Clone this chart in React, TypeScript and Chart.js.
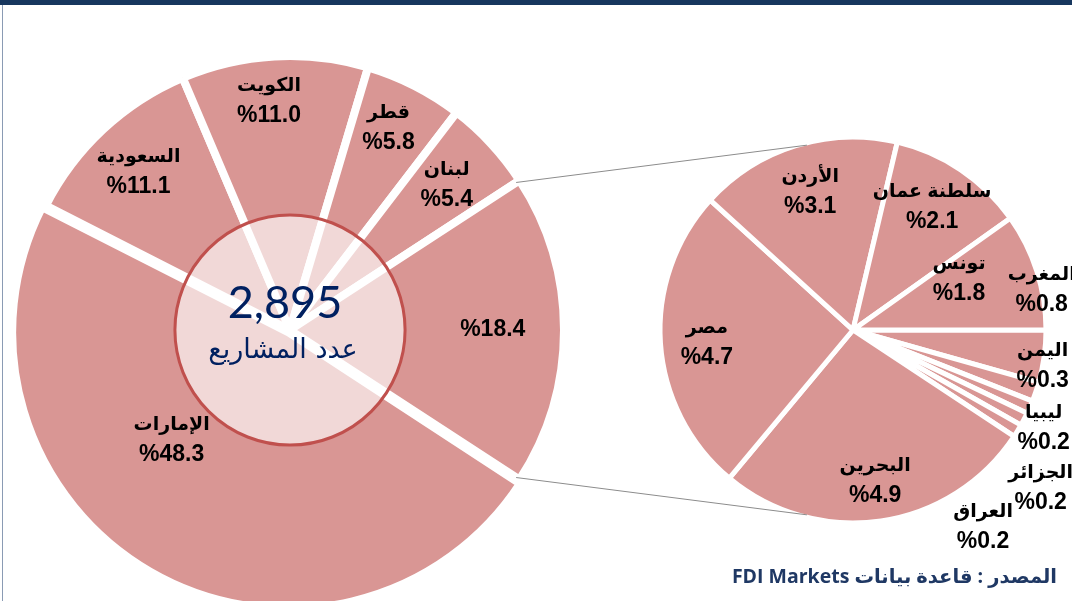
import React, { useEffect, useRef } from 'react';
import { Chart, registerables } from 'chart.js';

Chart.register(...registerables);

// ---------- data ----------
const mainCategories = ['الإمارات', 'السعودية', 'الكويت', 'قطر', 'لبنان', 'دول أخرى'];
const mainValues = [48.3, 11.1, 11.0, 5.8, 5.4, 18.4];
const subCategories = ['المغرب', 'اليمن', 'ليبيا', 'الجزائر', 'العراق', 'البحرين', 'مصر', 'الأردن', 'سلطنة عمان', 'تونس'];
const subValues = [0.8, 0.3, 0.2, 0.2, 0.2, 4.9, 4.7, 3.1, 2.1, 1.8];
const totalProjects = 2895;
const centerCaption = 'عدد المشاريع';
const sourceText = 'المصدر : قاعدة بيانات FDI Markets';

// ---------- layout / style (not data) ----------
const SLICE = '#d99694';
const NAVY = '#002060';
// [angle shift in degrees, radial fraction of outer radius]
const mainLabelPlacement = [[17, 0.59], [-0.7, 0.8], [-2, 0.84], [-1, 0.82], [0, 0.78], [0, 0.74]];
const mainHideName = [false, false, false, false, false, true];
const subLabelPlacement = [[-20, 1.0], [-8, 1.0], [3.5, 1.11], [12.5, 1.27], [25, 1.22], [0, 0.79], [-1, 0.76], [0, 0.75], [-1.3, 0.76], [-8, 0.61]];
const mainBorder = 8;
const subBorder = 5;
const connectorSpread = 76; // degrees from left horizontal on the second pie

const NAME_FONT = 'bold 19px "Liberation Sans", "DejaVu Sans", sans-serif';
const PCT_FONT = 'bold 23px "Liberation Sans", Arial, sans-serif';

function drawLabels(chart: any, names: string[], values: number[], placement: number[][], hide: boolean[]) {
  const ctx = chart.ctx as CanvasRenderingContext2D;
  const arcs = chart.getDatasetMeta(0).data;
  ctx.save();
  ctx.fillStyle = '#000';
  ctx.textAlign = 'center';
  ctx.textBaseline = 'middle';
  arcs.forEach((arc: any, i: number) => {
    const [da, f] = placement[i];
    const a = (arc.startAngle + arc.endAngle) / 2 + (da * Math.PI) / 180;
    const cx = arc.x + Math.cos(a) * arc.outerRadius * f;
    const cy = arc.y + Math.sin(a) * arc.outerRadius * f;
    const pct = '%' + values[i].toFixed(1);
    ctx.direction = 'ltr';
    if (hide[i]) {
      ctx.font = PCT_FONT;
      ctx.fillText(pct, cx, cy);
    } else {
      ctx.font = NAME_FONT;
      ctx.direction = 'rtl';
      ctx.fillText(names[i], cx, cy - 15);
      ctx.direction = 'ltr';
      ctx.font = PCT_FONT;
      ctx.fillText(pct, cx, cy + 15);
    }
  });
  ctx.restore();
}

export default function App() {
  const mainRef = useRef<HTMLCanvasElement>(null);
  const subRef = useRef<HTMLCanvasElement>(null);

  useEffect(() => {
    document.body.style.margin = '0';
    const mainSum = mainValues.reduce((a, b) => a + b, 0);
    const othersIdx = mainValues.length - 1;
    const mainRotation = 90 + (mainValues[othersIdx] / mainSum) * 180;

    const mainPlugin = {
      id: 'mainDecor',
      afterDatasetsDraw(chart: any) {
        const ctx = chart.ctx as CanvasRenderingContext2D;
        const arc = chart.getDatasetMeta(0).data[0];
        const cx = arc.x, cy = arc.y;
        const r = arc.outerRadius * 0.42;
        ctx.save();
        ctx.beginPath();
        ctx.arc(cx, cy, r, 0, Math.PI * 2);
        ctx.fillStyle = 'rgba(255,255,255,0.63)';
        ctx.fill();
        ctx.lineWidth = 3;
        ctx.strokeStyle = '#c0504d';
        ctx.stroke();
        ctx.fillStyle = NAVY;
        ctx.textAlign = 'center';
        ctx.textBaseline = 'middle';
        ctx.font = '45px Lato, "Open Sans", sans-serif';
        ctx.fillText(totalProjects.toLocaleString('en-US'), cx - 5, cy - 27);
        ctx.direction = 'rtl';
        ctx.font = '27px "DejaVu Sans", sans-serif';
        ctx.fillText(centerCaption, cx - 7, cy + 21);
        ctx.restore();
        drawLabels(chart, mainCategories, mainValues, mainLabelPlacement, mainHideName);
      },
    };

    const main = new Chart(mainRef.current!, {
      type: 'pie',
      data: {
        labels: mainCategories,
        datasets: [
          {
            data: mainValues,
            backgroundColor: SLICE,
            borderColor: '#ffffff',
            borderWidth: mainBorder,
            offset: mainValues.map((_, i) => (i === 0 ? 11 : 0)),
            hoverOffset: 0,
            clip: false as any,
          } as any,
        ],
      },
      options: {
        responsive: false,
        animation: false,
        events: [],
        rotation: mainRotation,
        radius: 274,
        layout: { padding: { left: 0, right: 492, top: 59, bottom: 0 } },
        plugins: { legend: { display: false }, tooltip: { enabled: false } },
      } as any,
      plugins: [mainPlugin],
    });

    const subPlugin = {
      id: 'subDecor',
      afterDatasetsDraw(chart: any) {
        drawLabels(chart, subCategories, subValues, subLabelPlacement, subCategories.map(() => false));
        const ctx = chart.ctx as CanvasRenderingContext2D;
        // connector lines between the "others" slice and the second pie
        const o = main.getDatasetMeta(0).data[othersIdx] as any;
        const R1 = o.outerRadius - mainBorder / 2;
        const s = chart.getDatasetMeta(0).data[0] as any;
        const R2 = s.outerRadius - subBorder / 2;
        const spread = (connectorSpread * Math.PI) / 180;
        const pairs = [
          [o.startAngle, Math.PI + spread],
          [o.endAngle, Math.PI - spread],
        ];
        ctx.save();
        ctx.strokeStyle = '#8c8c8c';
        ctx.lineWidth = 1;
        pairs.forEach(([a1, a2]) => {
          ctx.beginPath();
          ctx.moveTo(o.x + Math.cos(a1) * R1, o.y + Math.sin(a1) * R1);
          ctx.lineTo(s.x + Math.cos(a2) * R2, s.y + Math.sin(a2) * R2);
          ctx.stroke();
        });
        // source note
        ctx.fillStyle = '#1f3864';
        ctx.font = 'bold 19.5px "Open Sans", "DejaVu Sans", sans-serif';
        ctx.direction = 'rtl';
        ctx.textAlign = 'right';
        ctx.textBaseline = 'middle';
        ctx.fillText(sourceText, 1057, 577);
        ctx.restore();
      },
    };

    const sub = new Chart(subRef.current!, {
      type: 'pie',
      data: {
        labels: subCategories,
        datasets: [
          {
            data: subValues,
            backgroundColor: SLICE,
            borderColor: '#ffffff',
            borderWidth: subBorder,
            hoverOffset: 0,
            clip: false as any,
          } as any,
        ],
      },
      options: {
        responsive: false,
        animation: false,
        events: [],
        rotation: 90,
        radius: 193,
        layout: { padding: { left: 706, right: 72, top: 59, bottom: 0 } },
        plugins: { legend: { display: false }, tooltip: { enabled: false } },
      } as any,
      plugins: [subPlugin],
    });

    return () => {
      sub.destroy();
      main.destroy();
    };
  }, []);

  return (
    <div style={{ position: 'fixed', left: 0, top: 0, width: 1072, height: 601, background: '#fff', overflow: 'hidden' }}>
      <canvas ref={mainRef} width={1072} height={601} style={{ position: 'absolute', left: 0, top: 0 }} />
      <canvas ref={subRef} width={1072} height={601} style={{ position: 'absolute', left: 0, top: 0 }} />
      <div style={{ position: 'absolute', left: 0, top: 0, width: 1072, height: 5, background: '#17375e' }} />
      <div style={{ position: 'absolute', left: 2, top: 5, width: 1, height: 596, background: '#8a9bb4' }} />
    </div>
  );
}
